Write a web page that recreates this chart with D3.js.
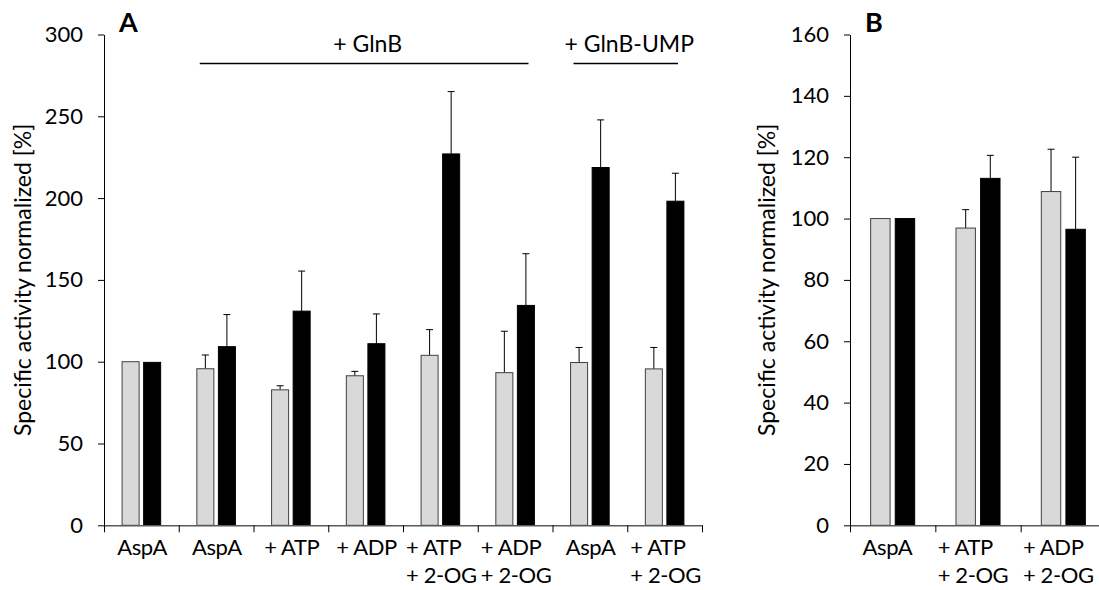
<!DOCTYPE html>
<html>
<head>
<meta charset="utf-8">
<script src="https://cdn.jsdelivr.net/npm/d3@7"></script>
<style>
  body { margin: 0; background: #fff; }
  svg text { font-family: Lato, "Noto Sans", sans-serif; fill: #000; }
</style>
</head>
<body>
<div id="chart"></div>
<script>
// panel A data
var labelsA = [["AspA"], ["AspA"], ["+ ATP"], ["+ ADP"], ["+ ATP", "+ 2-OG"], ["+ ADP", "+ 2-OG"], ["AspA"], ["+ ATP", "+ 2-OG"]];
var greyA = [100, 95.7, 82.8, 91.4, 103.9, 93.3, 99.5, 95.6];
var greyErrA = [0, 8.4, 2.5, 2.7, 15.7, 25.3, 9.2, 13.1];
var blackA = [99.6, 109.2, 130.9, 111.0, 227.0, 134.4, 218.7, 198.1];
var blackErrA = [0.2, 19.6, 24.5, 18.2, 38.1, 31.6, 29.1, 17.1];
var ticksA = [0, 50, 100, 150, 200, 250, 300];

// brackets over panel A
var bracketLabels = ["+ GlnB", "+ GlnB-UMP"];
var bracketFrom = [1, 6];
var bracketTo = [5, 7];

// panel B data
var labelsB = [["AspA"], ["+ ATP", "+ 2-OG"], ["+ ADP", "+ 2-OG"]];
var greyB = [100, 96.9, 108.8];
var greyErrB = [0, 6.0, 13.8];
var blackB = [100, 113.1, 96.5];
var blackErrB = [0, 7.5, 23.5];
var ticksB = [0, 20, 40, 60, 80, 100, 120, 140, 160];

const W = 1099, H = 590;
const fontSize = 22;

var svg = d3.select("#chart").append("svg")
  .attr("width", W).attr("height", H);

function drawPanel(opt) {
  var n = opt.labels.length;
  var idx = d3.range(n);

  var y = d3.scaleLinear().domain([0, opt.ymax]).range([525.3, 34.5]);
  var x = d3.scaleBand().domain(idx).range([opt.x0, opt.x1]).padding(0);
  var xb = d3.scaleLinear().domain([0, n]).range([opt.x0, opt.x1]);
  var bw = x.bandwidth();
  var sub = d3.scaleBand().domain(["grey", "black"])
    .range([bw * 0.242, bw * 0.758]).paddingInner(0.21);

  var g = svg.append("g");

  // y axis
  var ya = g.append("g")
    .attr("transform", "translate(" + opt.x0 + ",0)")
    .call(d3.axisLeft(y).tickValues(opt.ticks).tickSizeInner(6).tickSizeOuter(0).tickPadding(15));
  ya.select(".domain").attr("stroke", "#000");
  ya.selectAll(".tick line").attr("stroke", "#000");
  ya.selectAll(".tick text").style("font-size", fontSize + "px").style("font-family", "Lato, sans-serif");

  // bars
  var rows = idx.map(function (i) {
    return [
      { i: i, key: "grey", v: opt.grey[i], e: opt.greyErr[i] },
      { i: i, key: "black", v: opt.black[i], e: opt.blackErr[i] }
    ];
  });
  var flat = [].concat.apply([], rows);

  // error bars (drawn first so bar covers bottom end)
  var err = g.selectAll(".err").data(flat.filter(function (d) { return d.e > 0.5; }))
    .enter().append("g");
  err.append("line")
    .attr("x1", function (d) { return x(d.i) + sub(d.key) + sub.bandwidth() / 2; })
    .attr("x2", function (d) { return x(d.i) + sub(d.key) + sub.bandwidth() / 2; })
    .attr("y1", function (d) { return y(d.v); })
    .attr("y2", function (d) { return y(d.v + d.e); })
    .attr("stroke", "#000").attr("stroke-width", 1);
  err.append("line")
    .attr("x1", function (d) { return x(d.i) + sub(d.key) + sub.bandwidth() / 2 - 3.5; })
    .attr("x2", function (d) { return x(d.i) + sub(d.key) + sub.bandwidth() / 2 + 3.5; })
    .attr("y1", function (d) { return y(d.v + d.e); })
    .attr("y2", function (d) { return y(d.v + d.e); })
    .attr("stroke", "#000").attr("stroke-width", 1);

  g.selectAll(".bar").data(flat).enter().append("rect")
    .attr("x", function (d) { return x(d.i) + sub(d.key); })
    .attr("width", sub.bandwidth())
    .attr("y", function (d) { return y(d.v); })
    .attr("height", function (d) { return y(0) - y(d.v); })
    .attr("fill", function (d) { return d.key === "grey" ? "#d9d9d9" : "#000"; })
    .attr("stroke", function (d) { return d.key === "grey" ? "#404040" : "#000"; })
    .attr("stroke-width", 1);

  // x axis with ticks on the category boundaries
  var xa = g.append("g")
    .attr("transform", "translate(0," + y(0) + ")")
    .call(d3.axisBottom(xb).tickValues(d3.range(n + 1)).tickFormat("").tickSizeInner(7).tickSizeOuter(0));
  xa.select(".domain").attr("stroke", "#595959").attr("stroke-width", 1.5);
  xa.selectAll(".tick line").attr("stroke", "#000");

  // category labels: left-aligned lines, block centred in the category
  idx.forEach(function (i) {
    var t = g.append("text")
      .style("font-size", fontSize + "px")
      .style("letter-spacing", "-0.4px")
      .attr("y", 555);
    opt.labels[i].forEach(function (line, k) {
      t.append("tspan").attr("x", 0).attr("dy", k === 0 ? 0 : 28).text(line);
    });
    var w = t.node().getBBox().width;
    t.selectAll("tspan").attr("x", x(i) + bw / 2 - w / 2 + opt.labelShift);
  });

  // y axis title
  g.append("text")
    .attr("transform", "translate(" + opt.titleX + "," + y(opt.ymax / 2) + ") rotate(-90)")
    .attr("text-anchor", "middle")
    .style("font-size", "23px")
    .text("Specific activity normalized [%]");

  // panel letter
  g.append("text")
    .attr("x", opt.x0 + 15).attr("y", 32)
    .style("font-size", "27px").style("font-weight", "bold")
    .text(opt.letter);

  return { x: x, xb: xb, y: y };
}

var A = drawPanel({
  labels: labelsA, grey: greyA, greyErr: greyErrA, black: blackA, blackErr: blackErrA,
  ticks: ticksA, ymax: 300, x0: 104, x1: 702, titleX: 31, letter: "A", labelShift: 1
});

drawPanel({
  labels: labelsB, grey: greyB, greyErr: greyErrB, black: blackB, blackErr: blackErrB,
  ticks: ticksB, ymax: 160, x0: 850, x1: 1106, titleX: 775, letter: "B", labelShift: -5
});

// brackets above panel A
bracketLabels.forEach(function (lab, k) {
  var xa = A.xb(bracketFrom[k]), xe = A.xb(bracketTo[k] + 1);
  svg.append("line")
    .attr("x1", xa + 21).attr("x2", xe - 24)
    .attr("y1", 63.5).attr("y2", 63.5)
    .attr("stroke", "#000").attr("stroke-width", 1.5);
  svg.append("text")
    .attr("x", (xa + xe) / 2 + 2).attr("y", 52)
    .attr("text-anchor", "middle")
    .style("font-size", "23px")
    .text(lab);
});
</script>
</body>
</html>
